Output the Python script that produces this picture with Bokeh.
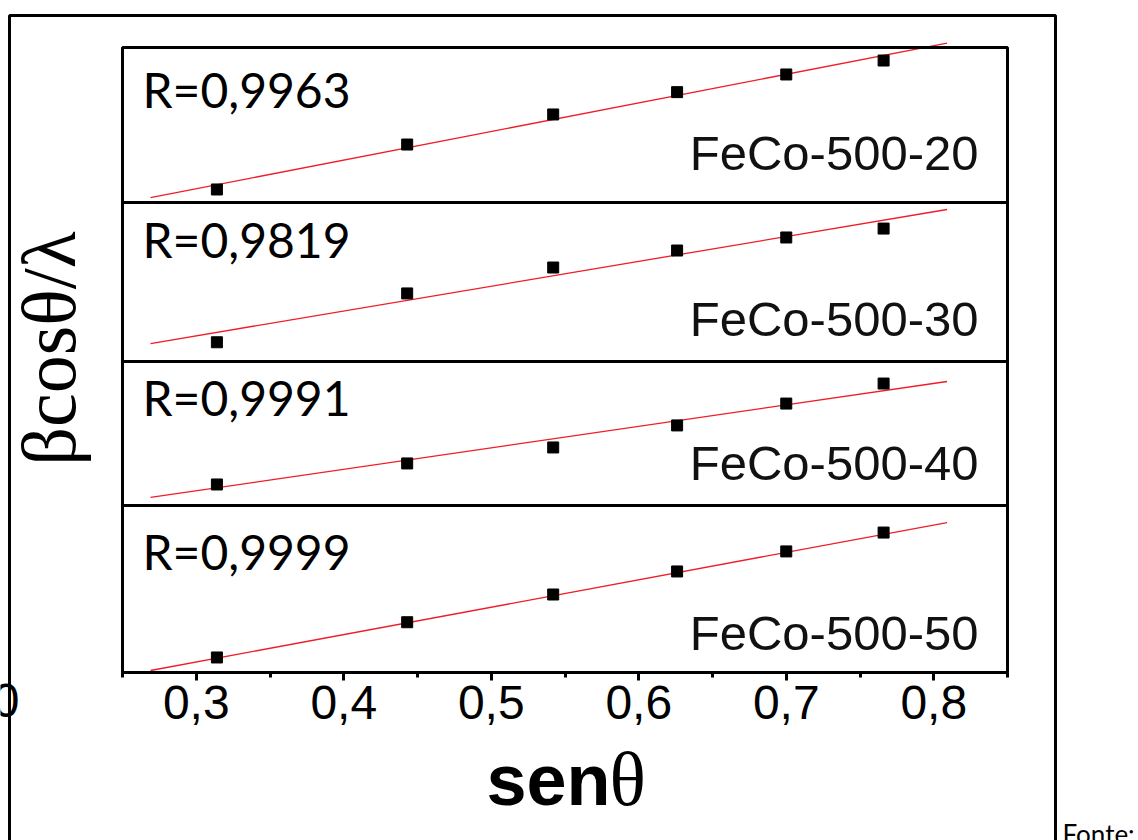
import numpy as np
from bokeh.plotting import figure
from bokeh.models import Range1d, FixedTicker, Label, BoxAnnotation, LinearAxis
from bokeh.embed import file_html
from bokeh.resources import INLINE

# ---------------- data ----------------
sen_theta = [0.314, 0.443, 0.542, 0.626, 0.700, 0.766]
samples = ["FeCo-500-20", "FeCo-500-30", "FeCo-500-40", "FeCo-500-50"]
r_values = ["R=0,9963", "R=0,9819", "R=0,9991", "R=0,9999"]
# beta*cos(theta)/lambda, arbitrary units per panel (no y scale shown)
y_20 = [0.084, 0.374, 0.568, 0.712, 0.826, 0.916]
y_30 = [0.121, 0.428, 0.591, 0.698, 0.780, 0.836]
y_40 = [0.146, 0.292, 0.403, 0.556, 0.708, 0.847]
y_50 = [0.090, 0.301, 0.467, 0.605, 0.725, 0.838]
fit_x = [0.269, 0.809]
fit_20 = [0.032, 1.028]
fit_30 = [0.113, 0.956]
fit_40 = [0.056, 0.861]
fit_50 = [0.012, 0.898]
x_ticks = [0.3, 0.4, 0.5, 0.6, 0.7, 0.8]
x_tick_labels = ["0,3", "0,4", "0,5", "0,6", "0,7", "0,8"]
x_minor = [0.25, 0.35, 0.45, 0.55, 0.65, 0.75, 0.85]

series_y = [y_20, y_30, y_40, y_50]
series_fit = [fit_20, fit_30, fit_40, fit_50]

# ---------------- layout (canvas pixels) ----------------
W, H = 1138, 840
FL, FR = 122, 1007                      # panel stack left / right
panel_edges = [47, 202, 361, 505, 672]  # panel stack top .. bottom
XMIN, XMAX = 0.25, 0.85
BASE = 0.42                             # alphabetic-baseline correction (em)

def dx(px):
    return XMIN + (px - FL) * (XMAX - XMIN) / (FR - FL)

def dy(py):
    return H - py

p = figure(width=W, height=H, output_backend="svg", toolbar_location=None,
           x_range=Range1d(dx(0), dx(W)), y_range=Range1d(0, H),
           x_axis_type=None, y_axis_type=None,
           min_border=0, min_border_left=0, min_border_right=0,
           min_border_top=0, min_border_bottom=0)
p.grid.visible = False
p.outline_line_color = None
p.background_fill_color = "white"
p.border_fill_color = "white"

# x axis at the bottom of the panel stack
ax = LinearAxis(fixed_location=dy(panel_edges[-1]), bounds=(XMIN, XMAX))
ax.ticker = FixedTicker(ticks=x_ticks, minor_ticks=x_minor)
ax.major_label_overrides = {t: l for t, l in zip(x_ticks, x_tick_labels)}
ax.axis_line_width = 3
ax.major_tick_line_width = 3
ax.minor_tick_line_width = 3
ax.major_tick_in = 0
ax.major_tick_out = 8
ax.minor_tick_in = 0
ax.minor_tick_out = 5
ax.major_label_text_font = "Liberation Sans"
ax.major_label_text_font_size = "48px"
ax.major_label_text_color = "black"
ax.major_label_standoff = 5
p.add_layout(ax, "below")

def label(xp, yp, text, font, size, align="left", style="normal", angle=0.0, color="black"):
    if angle:
        xx, yy = dx(xp - BASE * size), dy(yp)
    else:
        xx, yy = dx(xp), dy(yp - BASE * size)
    p.add_layout(Label(x=xx, y=yy, text=text, text_font=font, text_font_size=f"{size}px",
                       text_font_style=style, text_color=color, angle=angle,
                       text_align=align, text_baseline="alphabetic"))

def box(l, r, t, b):
    p.add_layout(BoxAnnotation(left=l, right=r, top=t, bottom=b, fill_alpha=0,
                               line_color="black", line_alpha=1.0, line_width=3))

r_baselines = [109, 259, 417, 571]
f_baselines = [173, 339, 483, 653]

for i in range(4):
    t, b = panel_edges[i], panel_edges[i + 1]
    name = f"panel{i}"
    p.extra_y_ranges[name] = Range1d((b - H) / (b - t), b / (b - t))
    box(XMIN, XMAX, dy(t), dy(b))
    p.line(fit_x, series_fit[i], y_range_name=name, line_color="#f01c28", line_width=1.3)
    p.scatter(sen_theta, series_y[i], y_range_name=name, marker="square", size=11,
              fill_color="black", line_color="black")
    label(142, r_baselines[i], r_values[i], "Lato", 48)
    label(978, f_baselines[i], samples[i], "Liberation Sans", 49, align="right", color="#111111")

# axis titles
label(610, 810, "sen", "Liberation Sans", 72, align="right", style="bold")
label(609, 810, "θ", "Liberation Serif", 76, align="left")
label(80, 348, "βcosθ/λ", "Liberation Serif", 76, align="center", angle=np.pi / 2)

# outer frame, stray glyph and source note
box(dx(9), dx(1055), dy(15), dy(900))
label(19, 720, "0", "Liberation Sans", 48, align="right")
label(1062, 844, "Fonte:", "Lato", 26)

open("out.html", "w").write(file_html(p, INLINE))
